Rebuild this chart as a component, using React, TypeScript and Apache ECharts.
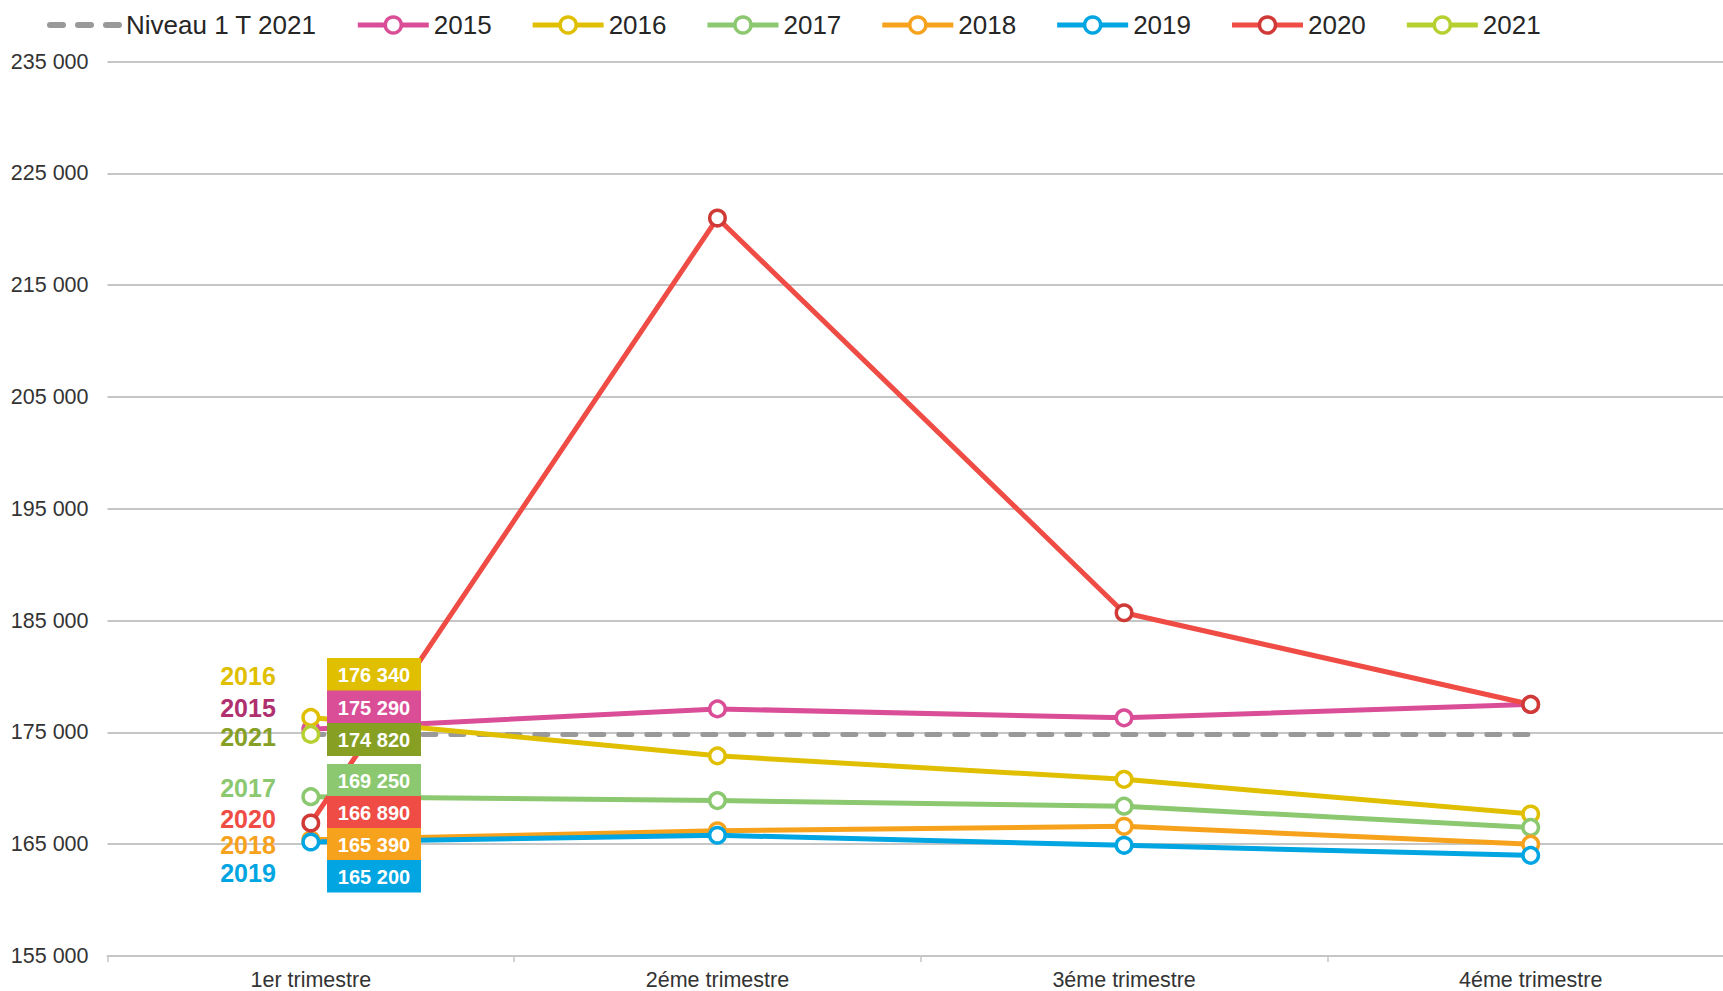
import React, { useEffect, useRef } from "react";
import * as echarts from "echarts";

const categories = ["1er trimestre", "2éme trimestre", "3éme trimestre", "4éme trimestre"];
const niveauName = "Niveau 1 T 2021";
const niveau = [174820, 174820, 174820, 174820];
const years = ["2015", "2016", "2017", "2018", "2019", "2020", "2021"];
const s2015 = [175290, 177100, 176300, 177500];
const s2016 = [176340, 172900, 170800, 167700];
const s2017 = [169250, 168900, 168400, 166500];
const s2018 = [165390, 166200, 166600, 165000];
const s2019 = [165200, 165800, 164900, 164000];
const s2020 = [166890, 221000, 185700, 177500];
const s2021 = [174820, null, null, null];
const yTicks = { min: 155000, max: 235000, interval: 10000 };

// annotation order (top to bottom) for the first quarter values
const annotOrder = ["2016", "2015", "2021", "2017", "2020", "2018", "2019"];

const lineColors: Record<string, string> = {
  "2015": "#D94E97",
  "2016": "#E0BF00",
  "2017": "#8BC86F",
  "2018": "#F7A21C",
  "2019": "#00A5E1",
  "2020": "#EF4C45",
  "2021": "#B5D030",
};
const markerColors: Record<string, string> = { ...lineColors, "2020": "#D03A36" };
const boxColors: Record<string, string> = { ...lineColors, "2021": "#87A023" };
const yearLabelColors: Record<string, string> = {
  ...lineColors,
  "2015": "#B0306F",
  "2021": "#86A025",
};

const FONT = "'Liberation Sans', Arial, sans-serif";
const W = 1734;
const DASH = [13, 15];

function fmt(v: number): string {
  return String(v).replace(/\B(?=(\d{3})+(?!\d))/g, " ");
}

export default function App() {
  const ref = useRef<HTMLDivElement>(null);
  useEffect(() => {
    if (!ref.current) return;
    const chart = echarts.init(ref.current, null, { renderer: "svg" });
    const seriesData: Record<string, (number | null)[]> = {
      "2015": s2015,
      "2016": s2016,
      "2017": s2017,
      "2018": s2018,
      "2019": s2019,
      "2020": s2020,
      "2021": s2021,
    };

    // annotation layout
    const boxLeft = 327;
    const boxW = 94;
    const boxTops = [658, 690.5, 723, 764, 796, 828, 860];
    const boxH = [32.5, 32.5, 32.5, 32, 32, 32, 32];
    const labelY = [676, 708, 737, 788, 819, 845, 873];
    const graphics: any[] = [];
    annotOrder.forEach((y, i) => {
      const v = seriesData[y][0] as number;
      graphics.push({
        type: "rect",
        shape: { x: boxLeft, y: boxTops[i], width: boxW, height: boxH[i] + 0.5 },
        style: { fill: boxColors[y] },
        z: 100,
      });
      graphics.push({
        type: "text",
        x: boxLeft + boxW / 2,
        y: boxTops[i] + boxH[i] / 2 + 1,
        style: {
          text: fmt(v),
          fill: "#ffffff",
          font: `bold 20px ${FONT}`,
          align: "center",
          verticalAlign: "middle",
        },
        z: 101,
      });
      graphics.push({
        type: "text",
        x: 248,
        y: labelY[i],
        style: {
          text: y,
          fill: yearLabelColors[y],
          font: `bold 25px ${FONT}`,
          align: "center",
          verticalAlign: "middle",
        },
        z: 101,
      });
    });

    const series: any[] = [
      {
        name: niveauName,
        type: "line",
        data: niveau,
        symbol: "none",
        lineStyle: { color: "#999999", width: 5, type: DASH, cap: "round" },
        itemStyle: { color: "#999999" },
        z: 2,
      },
      ...years.map((y) => ({
        name: y,
        type: "line",
        data: seriesData[y],
        symbol: "circle",
        symbolSize: 15.5,
        showAllSymbol: true,
        connectNulls: false,
        lineStyle: { color: lineColors[y], width: 5 },
        itemStyle: { color: "#ffffff", borderColor: markerColors[y], borderWidth: 3.5 },
        z: 3,
      })),
    ];

    chart.setOption({
      animation: false,
      backgroundColor: "#ffffff",
      textStyle: { fontFamily: FONT },
      legend: {
        left: 42,
        top: 7,
        itemWidth: 71,
        itemHeight: 20,
        itemGap: 38.5,
        textStyle: { fontSize: 26, color: "#262626", fontFamily: FONT },
        lineStyle: { width: 5 },
        data: [
          {
            name: niveauName,
            itemStyle: { opacity: 0 },
            lineStyle: { width: 6, type: DASH, cap: "round", color: "#999999" },
          },
          ...years.map((y) => ({
            name: y,
            itemStyle: { color: "#ffffff", borderColor: markerColors[y], borderWidth: 3.5 },
            lineStyle: { color: lineColors[y], width: 5 },
          })),
        ],
      },
      grid: { left: 107.5, right: 0, top: 61.5, bottom: 991 - 956, containLabel: false },
      xAxis: {
        type: "category",
        data: categories,
        boundaryGap: true,
        axisLine: { lineStyle: { color: "#c6c6c6", width: 2 } },
        axisTick: { show: true, length: 6, lineStyle: { color: "#c6c6c6", width: 1.5 } },
        axisLabel: { fontSize: 21.5, color: "#333333", margin: 13, fontFamily: FONT },
      },
      yAxis: {
        type: "value",
        min: yTicks.min,
        max: yTicks.max,
        interval: yTicks.interval,
        axisLine: { show: false },
        axisTick: { show: false },
        splitLine: { lineStyle: { color: "#c6c6c6", width: 2 } },
        axisLabel: {
          fontSize: 21.5,
          color: "#333333",
          margin: 19,
          fontFamily: FONT,
          formatter: (v: number) => fmt(v),
        },
      },
      series,
      graphic: graphics,
    });
    return () => chart.dispose();
  }, []);
  return (
    <div style={{ position: "fixed", left: 0, top: 0, width: 1723, height: 991, overflow: "hidden", background: "#fff" }}>
      <div ref={ref} style={{ width: W, height: 991 }} />
    </div>
  );
}
